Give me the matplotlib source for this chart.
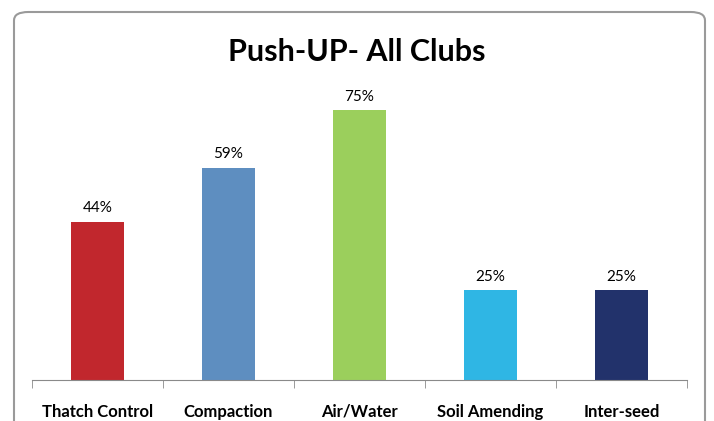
import matplotlib.pyplot as plt
from matplotlib.patches import FancyBboxPatch
import numpy as np

categories = ["Thatch Control", "Compaction", "Air/Water", "Soil Amending", "Inter-seed"]
values = [44, 59, 75, 25, 25]
colors = ["#C1272D", "#5E8EC0", "#9BCF5C", "#2FB6E4", "#22326B"]

plt.rcParams['font.family'] = ['Lato', 'DejaVu Sans']

fig = plt.figure(figsize=(7.14, 4.21), dpi=100)

# chart frame with rounded corners
frame = FancyBboxPatch((14 / 714, -0.05), 691 / 714, (421 - 12) / 421 + 0.05,
                       boxstyle="round,pad=0,rounding_size=0.02",
                       transform=fig.transFigure, facecolor="white",
                       edgecolor="#9a9a9a", linewidth=1.5, zorder=-1)
fig.patches.append(frame)

ax = fig.add_axes([32 / 714, 41 / 421, (687 - 32) / 714, 288 / 421])
ax.set_facecolor("none")

x = np.arange(len(categories))
bars = ax.bar(x, values, width=0.4, color=colors)
for b, v in zip(bars, values):
    ax.text(b.get_x() + b.get_width() / 2, v + 1.8, f"{v}%",
            ha="center", va="bottom", fontsize=11)

ax.set_xlim(-0.5, len(categories) - 0.5)
ax.set_ylim(0, 80)
ax.set_yticks([])
for s in ["top", "right", "left"]:
    ax.spines[s].set_visible(False)
ax.spines["bottom"].set_color("#8a8a8a")

ax.set_xticks(x)
ax.set_xticklabels(categories, fontsize=12, fontweight="bold")
ax.tick_params(axis="x", which="major", length=0, pad=17)
ax.set_xticks(np.arange(-0.5, len(categories), 1.0), minor=True)
ax.tick_params(axis="x", which="minor", length=6, color="#8a8a8a")

fig.text(0.5, 1 - 52 / 421, "Push-UP- All Clubs", ha="center", va="center",
         fontsize=22, fontweight="bold")

fig.savefig("out.png", dpi=100)
